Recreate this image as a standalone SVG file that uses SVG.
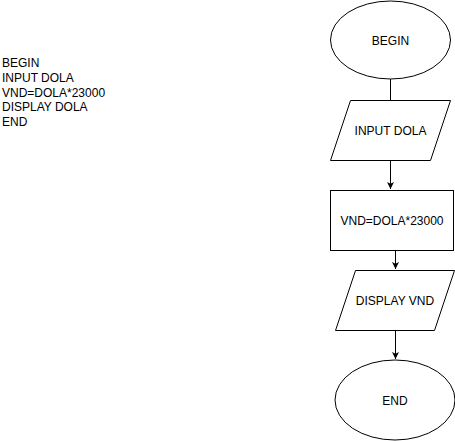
<svg xmlns="http://www.w3.org/2000/svg" width="455" height="441" viewBox="0 0 455 441">
<style>
.s{fill:#fff;stroke:#000;stroke-width:1}
.t{font-family:"Liberation Sans",Arial,sans-serif;font-size:12px;fill:#000}
.c{stroke:#000;stroke-width:1;fill:none}
</style>
<defs>
<marker id="a" markerWidth="8" markerHeight="8" refX="7" refY="4" orient="auto" markerUnits="userSpaceOnUse">
<path d="M0,0.5 L7,4 L0,7.5 L1.8,4 Z" fill="#000"/>
</marker>
</defs>
<rect width="455" height="441" fill="#fff"/>
<g id="pseudocode">
<text class="t" x="2" y="67">BEGIN</text>
<text class="t" x="2" y="82">INPUT DOLA</text>
<text class="t" x="2" y="97">VND=DOLA*23000</text>
<text class="t" x="2" y="111">DISPLAY DOLA</text>
<text class="t" x="2" y="126">END</text>
</g>
<g id="connectors">
<line class="c" x1="390.5" y1="79" x2="390.5" y2="100"/>
<line class="c" x1="390.5" y1="160" x2="390.5" y2="189" marker-end="url(#a)"/>
<line class="c" x1="395.5" y1="250" x2="395.5" y2="269" marker-end="url(#a)"/>
<line class="c" x1="395.5" y1="330" x2="395.5" y2="359" marker-end="url(#a)"/>
</g>
<g id="begin">
<ellipse class="s" cx="390.5" cy="40" rx="60" ry="39"/>
<text class="t" x="390.5" y="45" text-anchor="middle">BEGIN</text>
</g>
<g id="input">
<polygon class="s" points="350.5,100.5 450.5,100.5 430.5,160.5 330.5,160.5"/>
<text class="t" x="390.5" y="135" text-anchor="middle">INPUT DOLA</text>
</g>
<g id="process">
<rect class="s" x="330.5" y="190.5" width="123" height="60"/>
<text class="t" x="392" y="225" text-anchor="middle">VND=DOLA*23000</text>
</g>
<g id="display">
<polygon class="s" points="355.5,270.5 454.5,270.5 434.5,330.5 335.5,330.5"/>
<text class="t" x="395" y="305" text-anchor="middle">DISPLAY VND</text>
</g>
<g id="end">
<ellipse class="s" cx="395" cy="400" rx="60" ry="40"/>
<text class="t" x="395" y="405" text-anchor="middle">END</text>
</g>
</svg>
